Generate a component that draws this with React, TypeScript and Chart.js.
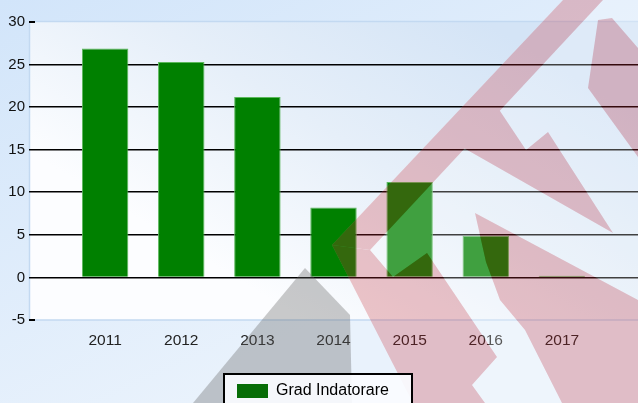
import React, { useEffect, useRef } from "react";
import { Chart, registerables } from "chart.js";

Chart.register(...registerables);

const categories = ["2011", "2012", "2013", "2014", "2015", "2016", "2017"];
const gradValues = [26.9, 25.3, 21.2, 8.2, 11.2, 4.9, 0.2];
const seriesLabel = "Grad Indatorare";
const yMin = -5;
const yMax = 30;
const yStep = 5;

const FONT = 'Arial, "Liberation Sans", Helvetica, sans-serif';

// Decorative watermark overlay seen on top of the original picture (not data)
const WM_LOGO: number[][] = [[563, 0], [638, 0], [638, 403], [413, 403], [332, 245]];
const WM_RED: number[][][] = [
  [[563, 0], [603, 0], [370, 250], [332, 245]],
  [[332, 245], [370, 250], [393, 277], [427, 253], [497, 357], [472, 385], [485, 403], [413, 403]],
  [[462, 147], [498, 108], [526, 150], [548, 132], [613, 233]],
  [[588, 88], [598, 20], [612, 18], [638, 48], [638, 157]],
  [[475, 213], [638, 300], [638, 403], [562, 403], [525, 330], [500, 300], [486, 262]],
];
const WM_GRAY: number[][] = [[305, 268], [350, 315], [352, 403], [193, 403]];

function poly(ctx: CanvasRenderingContext2D, pts: number[][]) {
  ctx.beginPath();
  pts.forEach((p, i) => (i ? ctx.lineTo(p[0], p[1]) : ctx.moveTo(p[0], p[1])));
  ctx.closePath();
  ctx.fill();
}

const bgPlugin = {
  id: "bgPlugin",
  beforeDraw(chart: any) {
    const { ctx, width, height, chartArea } = chart;
    ctx.save();
    const g = ctx.createLinearGradient(0, 0, width * 0.3, height);
    g.addColorStop(0, "#d2e5fa");
    g.addColorStop(1, "#e9f2fc");
    ctx.fillStyle = g;
    ctx.fillRect(0, 0, width, height);
    const { left, top, right, bottom } = chartArea;
    const w = right - left;
    const pg = ctx.createLinearGradient(left + w * 0.75, top, left + w * 0.45, bottom);
    pg.addColorStop(0, "#d4e4f6");
    pg.addColorStop(0.5, "#e6eff9");
    pg.addColorStop(1, "#fcfdff");
    ctx.fillStyle = pg;
    ctx.fillRect(left, top - 1, w, bottom - top + 1);
    ctx.strokeStyle = "#c3d9f1";
    ctx.lineWidth = 1.5;
    ctx.strokeRect(left + 0.5, top - 0.5, w + 2, bottom - top + 0.5);
    ctx.restore();
  },
  afterDatasetsDraw(chart: any) {
    const { ctx, chartArea, scales } = chart;
    const y = scales.y;
    ctx.save();
    ctx.strokeStyle = "#000";
    ctx.lineWidth = 2;
    [yMax, yMin].forEach((v) => {
      const py = Math.round(y.getPixelForValue(v));
      ctx.beginPath();
      ctx.moveTo(chartArea.left, py);
      ctx.lineTo(chartArea.left + 6, py);
      ctx.stroke();
    });
    ctx.restore();
  },
  afterDraw(chart: any) {
    const { ctx, width, height } = chart;
    // watermark
    const red = document.createElement("canvas");
    red.width = width;
    red.height = height;
    const rc = red.getContext("2d")!;
    rc.fillStyle = "#c82832";
    WM_RED.forEach((p) => poly(rc, p));
    const wht = document.createElement("canvas");
    wht.width = width;
    wht.height = height;
    const wc = wht.getContext("2d")!;
    wc.fillStyle = "#ffffff";
    poly(wc, WM_LOGO);
    wc.globalCompositeOperation = "destination-out";
    WM_RED.forEach((p) => poly(wc, p));
    ctx.save();
    ctx.fillStyle = "rgba(100,100,100,0.34)";
    poly(ctx, WM_GRAY);
    ctx.globalAlpha = 0.25;
    ctx.drawImage(wht, 0, 0);
    ctx.globalAlpha = 0.26;
    ctx.drawImage(red, 0, 0);
    ctx.restore();

    // legend
    ctx.save();
    const boxW = 188;
    const boxL = Math.round(width / 2 - 95);
    const boxT = 374;
    ctx.fillStyle = "rgba(250,252,255,0.92)";
    ctx.fillRect(boxL, boxT, boxW, 40);
    ctx.strokeStyle = "#000";
    ctx.lineWidth = 2;
    ctx.strokeRect(boxL, boxT, boxW, 40);
    ctx.fillStyle = "#076d07";
    ctx.fillRect(boxL + 13, 384, 31, 14);
    ctx.fillStyle = "#000";
    ctx.font = `16px ${FONT}`;
    ctx.textBaseline = "middle";
    ctx.textAlign = "left";
    ctx.fillText(seriesLabel, boxL + 52, 391);
    ctx.restore();
  },
};

export default function App() {
  const ref = useRef<HTMLCanvasElement | null>(null);
  useEffect(() => {
    if (!ref.current) return;
    const labels = ["", ...categories, ""];
    const data = [null, ...gradValues, null];
    const chart = new Chart(ref.current, {
      type: "bar",
      data: {
        labels,
        datasets: [
          {
            label: seriesLabel,
            data,
            backgroundColor: "#008000",
            borderColor: "#5cb85c",
            borderWidth: 1,
            barPercentage: 0.61,
            categoryPercentage: 1,
          },
        ],
      },
      options: {
        animation: false,
        responsive: false,
        maintainAspectRatio: false,
        layout: { padding: { top: 22, left: 0, right: 0, bottom: 53 } },
        plugins: {
          legend: { display: false },
          tooltip: { enabled: false },
        },
        scales: {
          x: {
            offset: false,
            grid: { display: false, drawTicks: false },
            border: { display: false },
            ticks: {
              color: "#222",
              font: { family: FONT, size: 15.5 },
              padding: 11,
              maxRotation: 0,
              autoSkip: false,
            },
            afterFit(scale: any) {
              scale.height = 30;
              scale.paddingLeft = 0;
              scale.paddingRight = 0;
            },
          },
          y: {
            min: yMin,
            max: yMax,
            grid: {
              drawTicks: false,
              lineWidth: 1.6,
              color: (c: any) =>
                c.tick && c.tick.value >= 0 && c.tick.value <= 25 ? "#000" : "rgba(0,0,0,0)",
            },
            border: { display: false },
            ticks: {
              stepSize: yStep,
              color: "#111",
              font: { family: FONT, size: 15 },
              padding: 4,
            },
            afterFit(scale: any) {
              scale.width = 29;
              scale.paddingTop = 0;
              scale.paddingBottom = 0;
            },
          },
        },
      },
      plugins: [bgPlugin],
    });
    return () => chart.destroy();
  }, []);
  return (
    <div style={{ position: "fixed", left: 0, top: 0, width: 638, height: 403 }}>
      <canvas ref={ref} width={638} height={403} style={{ display: "block" }} />
    </div>
  );
}
